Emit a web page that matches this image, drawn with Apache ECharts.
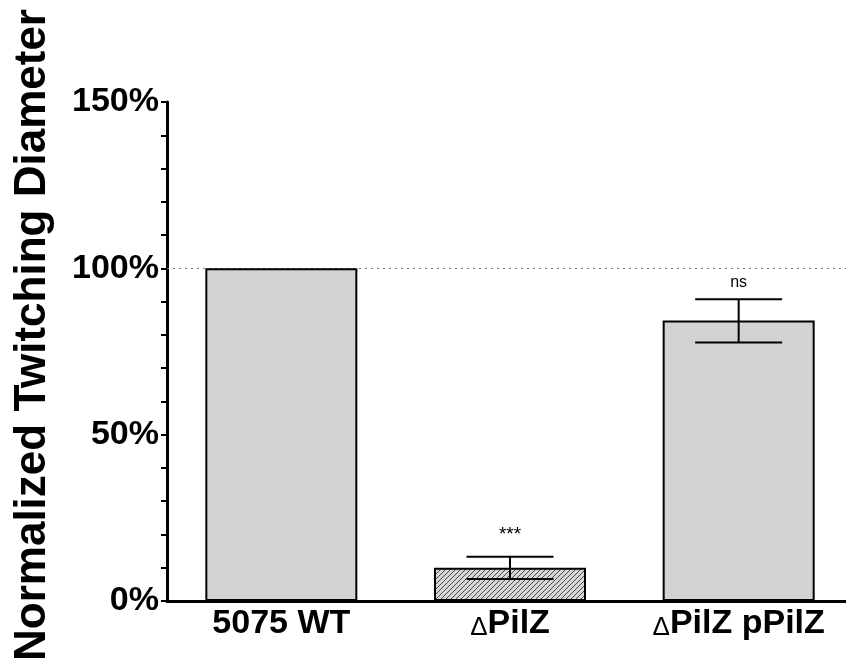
<!DOCTYPE html>
<html><head><meta charset="utf-8">
<script src="https://cdn.jsdelivr.net/npm/echarts@6/dist/echarts.min.js"></script>
<style>html,body{margin:0;padding:0;background:#fff;overflow:hidden;width:846px;height:668px}#c{width:853px;height:668px}</style>
</head><body><div id="c"></div>
<script>
var categories = ['5075 WT', 'ΔPilZ', 'ΔPilZ pPilZ'];
var means = [100, 10, 84.3];
var errLow = [100, 6.6, 77.7];
var errHigh = [100, 13.3, 90.7];
var sigLabels = ['', '***', 'ns'];
var yTicks = [0, 50, 100, 150];

function hatch() {
  var c = document.createElement('canvas');
  c.width = 5; c.height = 5;
  var g = c.getContext('2d');
  g.fillStyle = '#d6d6d6'; g.fillRect(0, 0, 5, 5);
  g.strokeStyle = '#4a4a4a'; g.lineWidth = 1;
  g.beginPath();
  g.moveTo(-1, 6); g.lineTo(6, -1);
  g.moveTo(-1, 1); g.lineTo(1, -1);
  g.moveTo(4, 6); g.lineTo(6, 4);
  g.stroke();
  return c;
}
var pattern = {image: hatch(), repeat: 'repeat'};

var chart = echarts.init(document.getElementById('c'));
var font = 'Liberation Sans, Arial, sans-serif';
chart.setOption({
  animation: false,
  grid: {left: 167, top: 102, bottom: 67, right: 0},
  graphic: [{
    type: 'text', x: 33, y: 335, rotation: Math.PI / 2,
    style: {text: 'Normalized Twitching Diameter', font: 'bold 44px ' + font, fill: '#000', textAlign: 'center', textVerticalAlign: 'middle'}
  }],
  xAxis: {
    type: 'category', data: categories,
    axisLine: {lineStyle: {color: '#000', width: 3}},
    axisTick: {alignWithLabel: true, length: 6, lineStyle: {color: '#000', width: 2}},
    axisLabel: {
      interval: 0, margin: 6, color: '#000', fontSize: 34, fontWeight: 'bold', fontFamily: font,
      formatter: function (v) { return v.indexOf('Δ') === 0 ? '{d|Δ}' + v.slice(1) : v; },
      rich: {d: {fontSize: 26, fontWeight: 'normal', fontFamily: font, color: '#000', verticalAlign: 'bottom'}}
    }
  },
  yAxis: {
    type: 'value', min: yTicks[0], max: yTicks[yTicks.length - 1], interval: 50,
    axisLine: {show: true, lineStyle: {color: '#000', width: 3}},
    axisTick: {show: true, length: 6, lineStyle: {color: '#000', width: 2}},
    minorTick: {show: true, splitNumber: 5, length: 6, lineStyle: {color: '#000', width: 2}},
    splitLine: {show: false},
    axisLabel: {margin: 8, color: '#000', fontSize: 34, fontWeight: 'bold', fontFamily: font, formatter: '{value}%'}
  },
  series: [{
    type: 'bar', barWidth: 152, z: 2,
    data: means.map(function (v, i) {
      return {value: v, itemStyle: {color: i === 1 ? pattern : '#d3d3d3', borderColor: '#000', borderWidth: 2}};
    }),
    markLine: {
      silent: true, symbol: 'none', z: 1,
      lineStyle: {type: [2, 4], color: '#777', width: 1},
      label: {show: false},
      data: [{yAxis: 100}]
    }
  }, {
    type: 'custom', z: 5,
    data: categories.map(function (c, i) { return [i, errLow[i], errHigh[i]]; }),
    renderItem: function (params, api) {
      var i = api.value(0);
      var lo = api.coord([i, api.value(1)]);
      var hi = api.coord([i, api.value(2)]);
      var x = lo[0], hw = 43.5;
      var st = {stroke: '#000', lineWidth: 2};
      var ch = [];
      if (errHigh[i] !== errLow[i]) {
        ch.push({type: 'line', shape: {x1: x, y1: lo[1], x2: x, y2: hi[1]}, style: st});
        ch.push({type: 'line', shape: {x1: x - hw, y1: lo[1], x2: x + hw, y2: lo[1]}, style: st});
        ch.push({type: 'line', shape: {x1: x - hw, y1: hi[1], x2: x + hw, y2: hi[1]}, style: st});
      }
      if (sigLabels[i]) {
        var big = sigLabels[i] === '***';
        ch.push({type: 'text', x: x, y: hi[1] - (big ? 12 : 9),
          style: {text: sigLabels[i], font: (big ? '19px ' : '16px ') + font, fill: '#000', textAlign: 'center', textVerticalAlign: 'bottom'}});
      }
      return {type: 'group', children: ch};
    }
  }]
});
</script></body></html>
